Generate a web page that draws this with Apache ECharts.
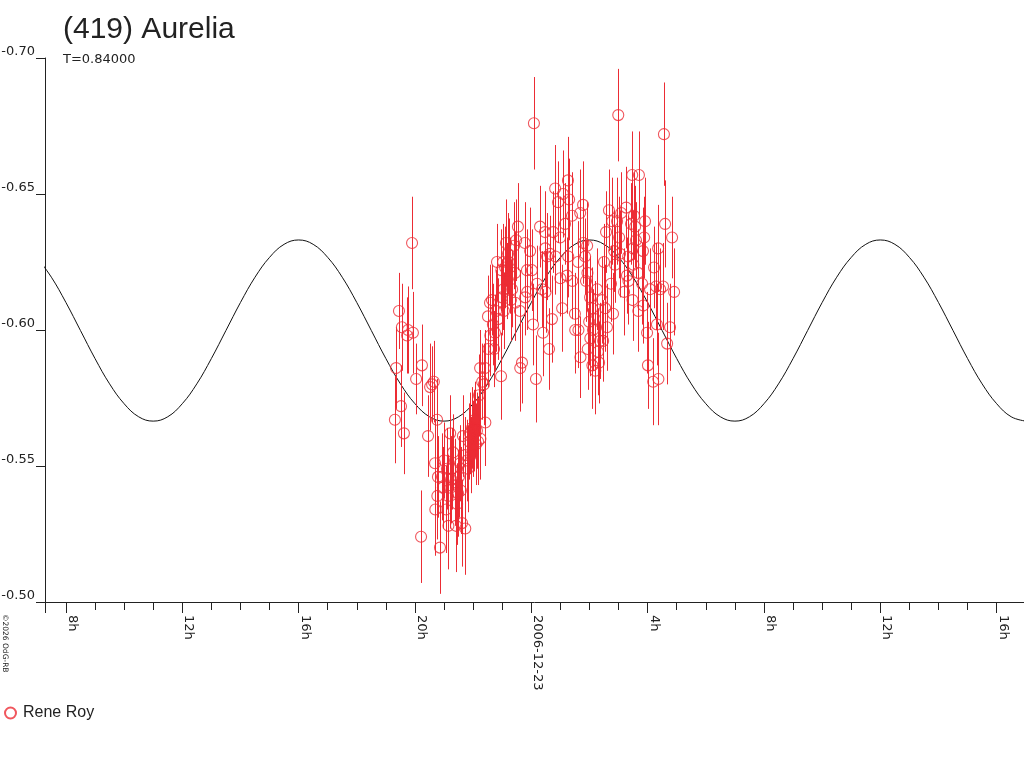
<!DOCTYPE html>
<html>
<head>
<meta charset="utf-8">
<title>(419) Aurelia</title>
<script src="https://cdn.jsdelivr.net/npm/echarts@6/dist/echarts.min.js"></script>
<style>
  html, body { margin: 0; padding: 0; background: #fff; }
  #chart { width: 1024px; height: 768px; }
</style>
</head>
<body>
<div id="chart"></div>
<script>
// hours counted from 2006-12-22 00:00
const obsHours = [
  19.31,19.35,19.45,19.52,19.55,19.62,19.73,19.76,19.90,19.93,
  20.04,20.21,20.24,20.45,20.52,20.59,20.65,20.69,20.70,20.76,
  20.77,20.79,20.86,20.93,20.96,21.00,21.07,21.10,21.14,21.15,
  21.21,21.22,21.24,21.27,21.31,21.38,21.41,21.45,21.48,21.51,
  21.55,21.58,21.62,21.65,21.72,21.73,21.79,21.82,21.86,21.89,
  21.93,21.96,22.00,22.03,22.06,22.10,22.13,22.17,22.20,22.24,
  22.25,22.31,22.37,22.41,22.42,22.51,22.52,22.58,22.59,22.65,
  22.68,22.72,22.75,22.79,22.82,22.86,22.96,22.99,22.97,23.03,
  23.04,23.06,23.10,23.13,23.17,23.20,23.23,23.27,23.30,23.34,
  23.41,23.44,23.45,23.48,23.54,23.61,23.62,23.68,23.78,23.79,
  23.85,23.86,23.96,24.02,24.06,24.09,24.16,24.20,24.30,24.37,
  24.40,24.47,24.48,24.49,24.54,24.61,24.64,24.71,24.75,24.82,
  24.83,24.92,24.99,25.00,25.06,25.09,25.16,25.23,25.26,25.27,
  25.30,25.40,25.41,25.50,25.51,25.61,25.62,25.68,25.69,25.78,
  25.79,25.85,25.88,25.92,25.93,25.94,25.99,26.02,26.03,26.09,
  26.10,26.12,26.19,26.20,26.26,26.29,26.33,26.36,26.43,26.47,
  26.50,26.54,26.57,26.60,26.67,26.74,26.78,26.81,26.85,26.88,
  26.95,26.99,27.02,27.05,27.09,27.19,27.26,27.29,27.33,27.34,
  27.43,27.47,27.48,27.50,27.51,27.53,27.57,27.60,27.67,27.68,
  27.70,27.81,27.84,27.85,27.88,27.91,27.98,28.01,28.08,28.19,
  28.22,28.29,28.32,28.36,28.37,28.43,28.53,28.56,28.60,28.67,
  28.77,28.84,28.91
];
const obsMag = [
  -0.567,-0.586,-0.607,-0.572,-0.601,-0.562,-0.598,-0.600,-0.632,-0.599,
  -0.582,-0.524,-0.587,-0.561,-0.579,-0.580,-0.581,-0.551,-0.534,-0.567,
  -0.539,-0.546,-0.520,-0.546,-0.542,-0.552,-0.534,-0.549,-0.539,-0.528,
  -0.562,-0.542,-0.545,-0.549,-0.555,-0.544,-0.528,-0.536,-0.540,-0.546,
  -0.551,-0.541,-0.529,-0.561,-0.554,-0.527,-0.552,-0.549,-0.559,-0.562,
  -0.554,-0.564,-0.560,-0.563,-0.567,-0.558,-0.563,-0.559,-0.576,-0.586,
  -0.560,-0.581,-0.580,-0.586,-0.566,-0.605,-0.593,-0.610,-0.598,-0.611,
  -0.602,-0.593,-0.599,-0.607,-0.625,-0.604,-0.583,-0.612,-0.622,-0.625,
  -0.615,-0.607,-0.623,-0.632,-0.618,-0.628,-0.625,-0.620,-0.611,-0.615,
  -0.631,-0.621,-0.610,-0.633,-0.638,-0.607,-0.586,-0.588,-0.632,-0.612,
  -0.622,-0.614,-0.629,-0.622,-0.602,-0.676,-0.582,-0.617,-0.638,-0.615,
  -0.599,-0.636,-0.630,-0.614,-0.627,-0.593,-0.628,-0.604,-0.636,-0.652,
  -0.627,-0.647,-0.634,-0.619,-0.608,-0.650,-0.639,-0.620,-0.655,-0.627,
  -0.648,-0.642,-0.618,-0.606,-0.600,-0.625,-0.600,-0.643,-0.590,-0.646,
  -0.632,-0.627,-0.618,-0.631,-0.621,-0.593,-0.603,-0.612,-0.597,-0.608,
  -0.587,-0.600,-0.604,-0.585,-0.615,-0.592,-0.588,-0.596,-0.611,-0.596,
  -0.625,-0.608,-0.636,-0.601,-0.644,-0.617,-0.640,-0.606,-0.629,-0.624,
  -0.640,-0.679,-0.634,-0.628,-0.643,-0.614,-0.645,-0.620,-0.627,-0.618,
  -0.639,-0.657,-0.611,-0.630,-0.624,-0.642,-0.638,-0.633,-0.621,-0.607,
  -0.657,-0.617,-0.629,-0.609,-0.634,-0.640,-0.599,-0.587,-0.615,-0.581,
  -0.623,-0.616,-0.602,-0.630,-0.582,-0.615,-0.616,-0.672,-0.639,-0.595,
  -0.601,-0.634,-0.614
];
const obsErr = [
  0.016,0.015,0.014,0.015,0.016,0.015,0.014,0.016,0.017,0.015,
  0.013,0.017,0.015,0.015,0.016,0.014,0.015,0.016,0.017,0.015,
  0.016,0.015,0.017,0.016,0.015,0.014,0.016,0.015,0.015,0.016,
  0.014,0.015,0.016,0.015,0.014,0.016,0.017,0.015,0.016,0.015,
  0.014,0.016,0.016,0.015,0.014,0.017,0.015,0.016,0.014,0.015,
  0.014,0.015,0.014,0.015,0.014,0.015,0.014,0.016,0.015,0.014,
  0.015,0.014,0.015,0.014,0.016,0.015,0.014,0.014,0.015,0.013,
  0.015,0.014,0.014,0.015,0.014,0.015,0.016,0.014,0.015,0.014,
  0.015,0.014,0.015,0.016,0.014,0.015,0.016,0.014,0.015,0.014,
  0.016,0.015,0.014,0.015,0.016,0.015,0.016,0.015,0.015,0.014,
  0.015,0.014,0.016,0.015,0.015,0.017,0.016,0.014,0.015,0.014,
  0.016,0.015,0.014,0.015,0.016,0.015,0.014,0.016,0.015,0.016,
  0.014,0.015,0.015,0.014,0.016,0.016,0.015,0.014,0.016,0.015,
  0.015,0.016,0.014,0.015,0.016,0.015,0.014,0.016,0.015,0.016,
  0.015,0.014,0.015,0.016,0.014,0.015,0.016,0.015,0.014,0.015,
  0.016,0.015,0.014,0.016,0.015,0.016,0.015,0.014,0.016,0.015,
  0.014,0.016,0.015,0.016,0.015,0.014,0.016,0.015,0.015,0.014,
  0.016,0.017,0.015,0.016,0.015,0.016,0.015,0.014,0.015,0.016,
  0.015,0.016,0.015,0.014,0.015,0.016,0.015,0.014,0.016,0.015,
  0.016,0.015,0.016,0.014,0.015,0.016,0.015,0.016,0.015,0.016,
  0.015,0.016,0.015,0.016,0.017,0.015,0.016,0.019,0.016,0.015,
  0.016,0.015,0.016
];

// fitted lightcurve, read every half hour
const curveHours = [
  7,7.5,8,8.5,9,9.5,10,10.5,11,11.5,12,12.5,13,13.5,14,14.5,15,15.5,16,16.5,
  17,17.5,18,18.5,19,19.5,20,20.5,21,21.5,22,22.5,23,23.5,24,24.5,25,25.5,26,26.5,
  27,27.5,28,28.5,29,29.5,30,30.5,31,31.5,32,32.5,33,33.5,34,34.5,35,35.5,36,36.5,
  37,37.5,38,38.5,39,39.5,40,40.5,41
];
const curveMag = [
  -0.6267,-0.6194,-0.6101,-0.5998,-0.5895,-0.5802,-0.5729,-0.5681,-0.5665,-0.5681,
  -0.5729,-0.5802,-0.5895,-0.5998,-0.6101,-0.6194,-0.6267,-0.6315,-0.6331,-0.6315,
  -0.6267,-0.6194,-0.6101,-0.5998,-0.5895,-0.5802,-0.5729,-0.5681,-0.5665,-0.5681,
  -0.5729,-0.5802,-0.5895,-0.5998,-0.6101,-0.6194,-0.6267,-0.6315,-0.6331,-0.6315,
  -0.6267,-0.6194,-0.6101,-0.5998,-0.5895,-0.5802,-0.5729,-0.5681,-0.5665,-0.5681,
  -0.5729,-0.5802,-0.5895,-0.5998,-0.6101,-0.6194,-0.6267,-0.6315,-0.6331,-0.6315,
  -0.6267,-0.6194,-0.6101,-0.5998,-0.5895,-0.5802,-0.5729,-0.5681,-0.5665
];

const observer = 'Rene Roy';
const red = '#ec2c34';
const ink = '#222';

const points = obsHours.map((t, i) => [t, obsMag[i]]);
const bars = obsHours.map((t, i) => [t, obsMag[i] - obsErr[i], obsMag[i] + obsErr[i]]);
const curve = curveHours.map((t, i) => [t, curveMag[i]]);

function hourLabel(v) {
  if (Math.abs(v - Math.round(v)) > 1e-6) return '';
  const h = Math.round(v) % 24;
  if (h % 4 !== 0) return '';
  if (h === 0) return '2006-12-' + (22 + Math.round(v) / 24);
  return h + 'h';
}

const chart = echarts.init(document.getElementById('chart'), null, { renderer: 'canvas' });
chart.setOption({
  backgroundColor: '#fff',
  animation: false,
  title: {
    text: '(419) Aurelia',
    subtext: 'T=0.84000',
    left: 63,
    top: 15,
    itemGap: 8,
    padding: 0,
    textStyle: { fontFamily: 'Liberation Sans', fontSize: 30, fontWeight: 'normal', color: ink },
    subtextStyle: { fontFamily: 'DejaVu Sans', fontSize: 13, color: ink }
  },
  legend: {
    data: [observer],
    left: 4,
    top: 705,
    icon: 'circle',
    itemWidth: 11,
    itemHeight: 11,
    itemGap: 10,
    padding: 0,
    textStyle: { fontFamily: 'Liberation Sans', fontSize: 16, color: ink, padding: [0, 0, 0, 2] }
  },
  grid: { left: 45, right: 0, top: 58, bottom: 166, containLabel: false, outerBoundsMode: 'none' },
  xAxis: {
    type: 'value',
    min: 7.28,
    max: 40.94,
    splitNumber: 8,
    minInterval: 4,
    maxInterval: 4,
    splitLine: { show: false },
    axisLine: { lineStyle: { color: ink, width: 1 } },
    axisTick: { length: 11, lineStyle: { color: ink } },
    minorTick: { show: true, splitNumber: 4, length: 8, lineStyle: { color: ink } },
    axisLabel: {
      rotate: -90,
      margin: 13,
      align: 'left',
      verticalAlign: 'bottom',
      fontFamily: 'DejaVu Sans',
      fontSize: 13,
      color: ink,
      formatter: hourLabel
    }
  },
  yAxis: {
    type: 'value',
    inverse: true,
    min: -0.70,
    max: -0.50,
    interval: 0.05,
    splitLine: { show: false },
    axisLine: { show: true, lineStyle: { color: ink, width: 1 } },
    axisTick: { show: true, length: 9, lineStyle: { color: ink } },
    axisLabel: {
      margin: 10,
      verticalAlign: 'bottom',
      fontFamily: 'DejaVu Sans',
      fontSize: 13,
      color: ink,
      formatter: v => v.toFixed(2)
    }
  },
  graphic: [{
    type: 'text',
    x: 9,
    y: 614,
    rotation: -Math.PI / 2,
    style: { text: '\u00a92026 OdG-RB', font: '7.5px "DejaVu Sans"', fill: ink }
  }],
  series: [
    {
      type: 'line',
      data: curve,
      smooth: 0.4,
      symbol: 'none',
      silent: true,
      lineStyle: { color: '#111', width: 1 },
      z: 1
    },
    {
      type: 'custom',
      data: bars,
      silent: true,
      renderItem: function (params, api) {
        const lo = api.coord([api.value(0), api.value(1)]);
        const hi = api.coord([api.value(0), api.value(2)]);
        const x = Math.round(lo[0]) + 0.5;
        return {
          type: 'line',
          shape: { x1: x, y1: lo[1], x2: x, y2: hi[1] },
          style: { stroke: red, lineWidth: 1 }
        };
      },
      z: 2
    },
    {
      name: observer,
      type: 'scatter',
      data: points,
      symbol: 'circle',
      symbolSize: 11,
      itemStyle: { color: 'rgba(255,255,255,0)', borderColor: red, borderWidth: 1.1 },
      z: 3
    }
  ]
});
</script>
</body>
</html>
